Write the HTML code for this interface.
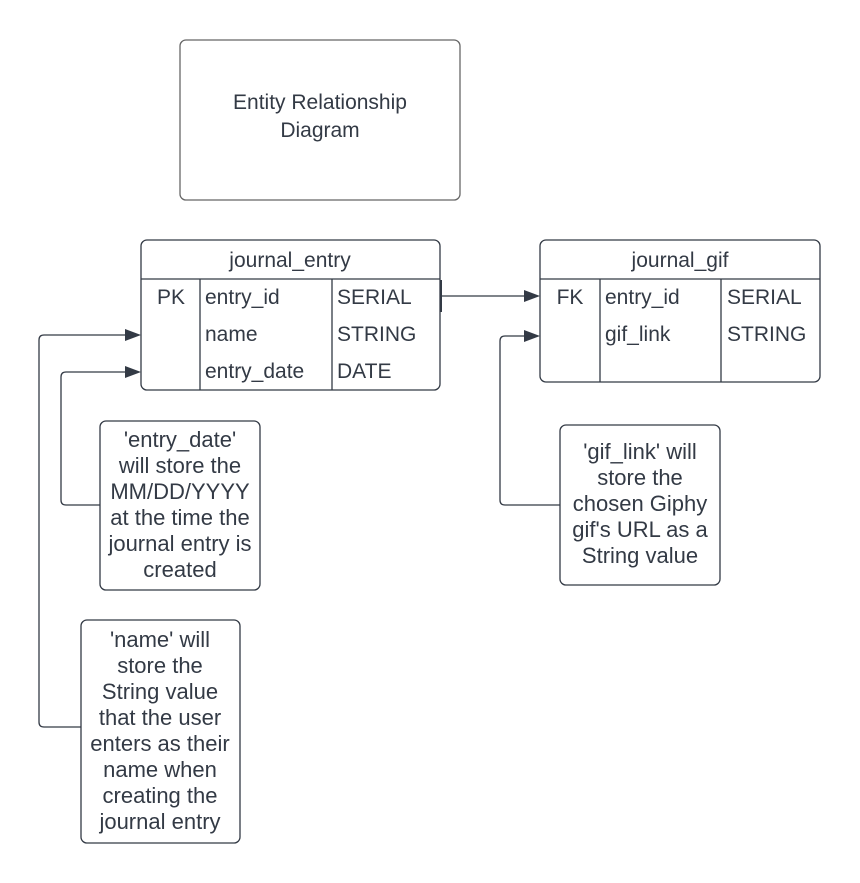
<!DOCTYPE html>
<html><head><meta charset="utf-8"><style>
html,body{margin:0;padding:0;background:#fff;}
svg{display:block}
text{font-family:"Liberation Sans",Arial,sans-serif;fill:#333a45;font-size:21px;}
.n text{font-size:22px;}
</style></head><body>
<svg width="860" height="883" viewBox="0 0 860 883" xmlns="http://www.w3.org/2000/svg">
<g fill="none" stroke="#333a45" stroke-width="1.3">
<rect x="180" y="40" width="280" height="160" rx="6" stroke="#666"/>
<rect x="141" y="240" width="299" height="150" rx="6"/>
<line x1="141" y1="279" x2="440" y2="279"/>
<line x1="200" y1="279" x2="200" y2="390"/>
<line x1="332" y1="279" x2="332" y2="390"/>
<rect x="540" y="240" width="280" height="142" rx="6"/>
<line x1="540" y1="279" x2="820" y2="279"/>
<line x1="600" y1="279" x2="600" y2="382"/>
<line x1="721" y1="279" x2="721" y2="382"/>
<rect x="100" y="421" width="160" height="169" rx="6"/>
<rect x="81" y="620" width="159" height="223" rx="6"/>
<rect x="560" y="425" width="160" height="160" rx="6"/>
<line x1="440" y1="296" x2="528" y2="296"/>
<line x1="441" y1="280" x2="441" y2="312" stroke-width="2"/>
<path d="M560 505 H505 Q500 505 500 500 V341 Q500 336 505 336 H528"/>
<path d="M81 727 H44 Q39 727 39 722 V340 Q39 335 44 335 H129"/>
<path d="M100 505 H66 Q61 505 61 500 V377 Q61 372 66 372 H129"/>
</g>
<g fill="#333a45">
<polygon points="540,296 524,290 524,302"/>
<polygon points="540,336 524,330 524,342"/>
<polygon points="141,335 125,329 125,341"/>
<polygon points="141,372 125,366 125,378"/>
</g>
<text x="320" y="109" text-anchor="middle">Entity Relationship</text>
<text x="320" y="137" text-anchor="middle">Diagram</text>
<text x="290" y="267" text-anchor="middle">journal_entry</text>
<text x="171" y="304" text-anchor="middle">PK</text>
<text x="205" y="304">entry_id</text>
<text x="205" y="341">name</text>
<text x="205" y="378">entry_date</text>
<text x="337" y="304">SERIAL</text>
<text x="337" y="341">STRING</text>
<text x="337" y="378">DATE</text>
<text x="680" y="267" text-anchor="middle">journal_gif</text>
<text x="570" y="304" text-anchor="middle">FK</text>
<text x="605" y="304">entry_id</text>
<text x="605" y="341">gif_link</text>
<text x="727" y="304">SERIAL</text>
<text x="727" y="341">STRING</text>
<g text-anchor="middle" class="n">
<text x="180" y="447">'entry_date'</text>
<text x="180" y="473">will store the</text>
<text x="180" y="499">MM/DD/YYYY</text>
<text x="180" y="525">at the time the</text>
<text x="180" y="551">journal entry is</text>
<text x="180" y="577">created</text>
<text x="160" y="647">'name' will</text>
<text x="160" y="673">store the</text>
<text x="160" y="699">String value</text>
<text x="160" y="725">that the user</text>
<text x="160" y="751">enters as their</text>
<text x="160" y="777">name when</text>
<text x="160" y="803">creating the</text>
<text x="160" y="829">journal entry</text>
<text x="640" y="459">'gif_link' will</text>
<text x="640" y="485">store the</text>
<text x="640" y="511">chosen Giphy</text>
<text x="640" y="537">gif's URL as a</text>
<text x="640" y="563">String value</text>
</g>
</svg>
</body></html>
